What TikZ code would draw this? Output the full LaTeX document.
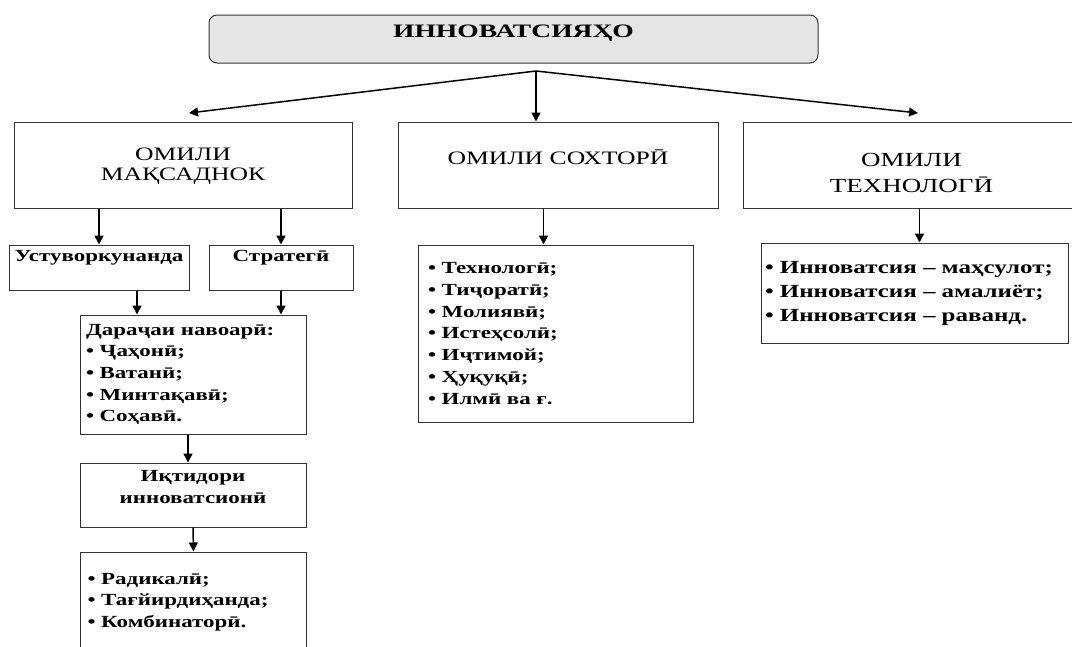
\documentclass[tikz,border=0pt]{standalone}
\usepackage{fontspec}
\setmainfont{Liberation Serif}[FakeStretch=1.35]
\newfontfamily\titlefont{Liberation Serif}[FakeStretch=1.45]
\usetikzlibrary{arrows.meta}
\newcommand{\lowstrut}[1]{\rule[-#1]{0pt}{#1}}
\newcommand{\highstrut}[1]{\rule{0pt}{#1}}
\newcommand{\boxfont}{\fontsize{17}{21.7}\selectfont}
\tikzset{
    box/.style={draw=black!80, line width=1pt, inner sep=4pt},
    head/.style={box, align=center, minimum height=86pt, font=\fontsize{19}{20}\selectfont},
    bbox/.style={box, font=\boxfont\bfseries},
    blist/.style={box, align=left, font=\boxfont\bfseries},
    arr/.style={line width=1.5pt, -{Triangle[length=9pt,width=9pt]}}
}

\begin{document}
\begin{tikzpicture}[x=1pt, y=-1pt]
    \useasboundingbox (0,0) rectangle (1072,646);
    \clip (0,0) rectangle (1072,646);

    \node[box, rounded corners=8pt, fill=black!10, minimum width=609pt, minimum height=48pt,
          font=\titlefont\fontsize{19}{23}\selectfont\bfseries] at (513.5, 39) (innov) {ИННОВАТСИЯҲО\lowstrut{15pt}};
    \coordinate (hub) at (536, 71);
    \coordinate (lend) at (189, 113);
    \coordinate (rend) at (918, 113);

    \node[head, minimum width=338pt] at (183, 165) (goal) {\highstrut{16pt}ОМИЛИ\\МАҚСАДНОК};
    \node[head, minimum width=320pt] at (558, 165) (struct) {ОМИЛИ СОХТОРӢ\lowstrut{16pt}};
    \node[head, minimum width=337pt, font=\fontsize{20}{26}\selectfont] at (911.5, 165) (tech) {\highstrut{30pt}ОМИЛИ\\ТЕХНОЛОГӢ};

    \node[bbox, minimum width=180pt, minimum height=45pt] at (99, 267.5) (ustuv) {Устуворкунанда\lowstrut{23pt}};
    \node[bbox, minimum width=144pt, minimum height=45pt] at (281, 267.5) (strat) {Стратегӣ\lowstrut{23pt}};

    \node[blist, text width=255pt, inner xsep=10pt, minimum height=177pt] at (555.5, 333.5) (lst2) {%
        • Технологӣ;\\ • Тиҷоратӣ;\\ • Молиявӣ;\\ • Истеҳсолӣ;\\ • Иҷтимой;\\ • Ҳуқуқӣ;\\ • Илмӣ ва ғ.};
    \node[blist, text width=299pt, inner xsep=4pt, minimum height=100pt, font=\fontsize{18.5}{24}\selectfont\bfseries] at (914.5, 293) (lst3) {%
        • Инноватсия – маҳсулот;\\ • Инноватсия – амалиёт;\\ • Инноватсия – раванд.};

    \node[blist, text width=214pt, inner xsep=6pt, minimum height=119pt] at (193, 374.5) (dar) {%
        Дараҷаи навоарӣ:\\ • Ҷаҳонӣ;\\ • Ватанӣ;\\ • Минтақавӣ;\\ • Соҳавӣ.};
    \node[bbox, align=center, minimum width=226pt, minimum height=64pt] at (193, 495) (iqt) {Иқтидори\\инноватсионӣ\lowstrut{16pt}};
    \node[blist, text width=212pt, inner xsep=7pt, minimum height=100pt] at (193.5, 602) (lst1) {%
        • Радикалӣ;\\ • Тағйирдиҳанда;\\ • Комбинаторӣ.};

    \path[arr]
        (hub) edge (lend)
        (hub) edge (rend)
        (hub) edge (hub |- struct.north)
        (ustuv.north |- goal.south) edge (ustuv.north)
        (strat.north |- goal.south) edge (strat.north)
        ([xshift=-12pt]lst2.north |- struct.south) edge ([xshift=-12pt]lst2.north)
        ([xshift=5pt]lst3.north |- tech.south) edge ([xshift=5pt]lst3.north)
        ([xshift=38pt]ustuv.south) edge ([xshift=38pt]ustuv.south |- dar.north)
        (strat.south) edge (strat.south |- dar.north)
        ([xshift=-5pt]dar.south) edge ([xshift=-5pt]iqt.north)
        (iqt.south) edge (lst1.north);
\end{tikzpicture}
\end{document}
